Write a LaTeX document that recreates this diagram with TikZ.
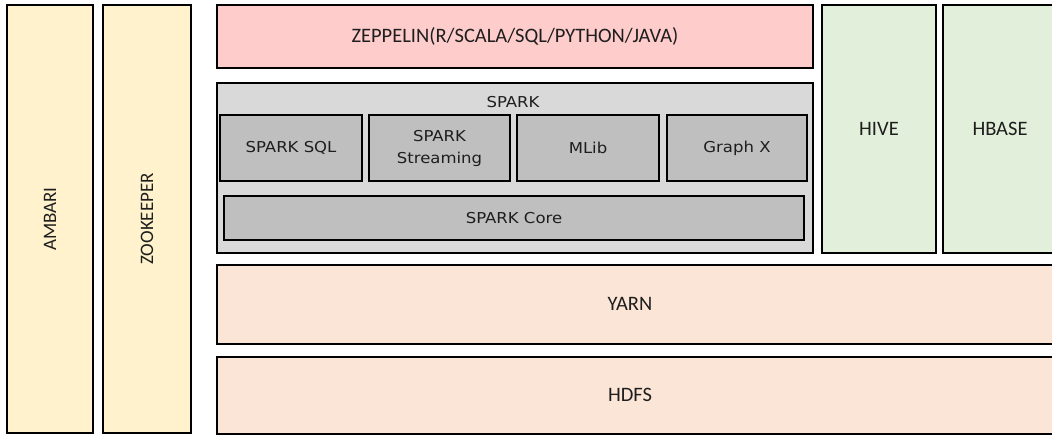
\documentclass[tikz,border=0pt]{standalone}
\usepackage{fontspec}
\setmainfont{Carlito}
\newfontfamily\sparkfont[FakeStretch=1.1]{DejaVu Sans}
\definecolor{txt}{HTML}{1E1E1E}
\definecolor{mgmt}{HTML}{FFF2CC}
\definecolor{zep}{HTML}{FFCCCC}
\definecolor{sparkout}{HTML}{D9D9D9}
\definecolor{sparkin}{HTML}{BFBFBF}
\definecolor{store}{HTML}{E2EFDA}
\definecolor{base}{HTML}{FBE5D6}
\tikzset{
  box/.style={draw=black, line width=2pt, inner sep=0pt, outer sep=0pt, text=txt, align=center},
  bigtext/.style={font=\fontsize{20.5}{22}\selectfont},
  vtext/.style={font=\fontsize{19}{20}\selectfont},
  sptext/.style={font=\sparkfont\fontsize{15}{22}\selectfont},
}
\begin{document}
\begin{tikzpicture}[x=1pt,y=-1pt]
\clip (0,0) rectangle (1052,436);
\fill[white] (0,0) rectangle (1052,436);
% management columns
\node[box, vtext, fill=mgmt, rotate=90, minimum width=428pt, minimum height=86pt] (ambari) at (50,219) {AMBARI};
\node[box, vtext, fill=mgmt, rotate=90, minimum width=428pt, minimum height=88pt] (zookeeper) at (147,219) {ZOOKEEPER};
% zeppelin
\node[box, bigtext, fill=zep, minimum width=596pt, minimum height=63pt, anchor=north west] (zeppelin) at (217,5) {ZEPPELIN(R/SCALA/SQL/PYTHON/JAVA)};
% spark
\node[box, fill=sparkout, minimum width=596pt, minimum height=170pt, anchor=north west] (spark) at (217,83) {};
\node[sptext, text=txt, inner sep=0pt] (sparklabel) at (513,102) {SPARK};
\node[box, sptext, fill=sparkin, minimum width=142pt, minimum height=66pt, anchor=north west] (sql) at (220,115) {SPARK SQL};
\node[box, sptext, fill=sparkin, minimum width=141pt, minimum height=66pt, anchor=north west] (streaming) at (369,115) {SPARK\\Streaming};
\node[box, sptext, fill=sparkin, minimum width=142pt, minimum height=66pt, anchor=north west] (mlib) at (517,115) {MLib};
\node[box, sptext, fill=sparkin, minimum width=140pt, minimum height=66pt, anchor=north west] (graphx) at (667,115) {Graph X};
\node[box, sptext, fill=sparkin, minimum width=580pt, minimum height=44pt, anchor=north west] (core) at (224,196) {SPARK Core};
% hive / hbase
\node[box, bigtext, fill=store, minimum width=114pt, minimum height=248pt, anchor=north west] (hive) at (822,5) {HIVE};
\node[box, fill=store, minimum width=120pt, minimum height=248pt, anchor=north west] (hbase) at (943,5) {};
\node[bigtext, text=txt, inner sep=0pt] (hbaselabel) at (1000,129) {HBASE};
% yarn / hdfs
\node[box, fill=base, minimum width=850pt, minimum height=79pt, anchor=north west] (yarn) at (217,265) {};
\node[bigtext, text=txt, inner sep=0pt] (yarnlabel) at (630,304) {YARN};
\node[box, fill=base, minimum width=850pt, minimum height=77pt, anchor=north west] (hdfs) at (217,357) {};
\node[bigtext, text=txt, inner sep=0pt] (hdfslabel) at (630,395) {HDFS};
\end{tikzpicture}
\end{document}
